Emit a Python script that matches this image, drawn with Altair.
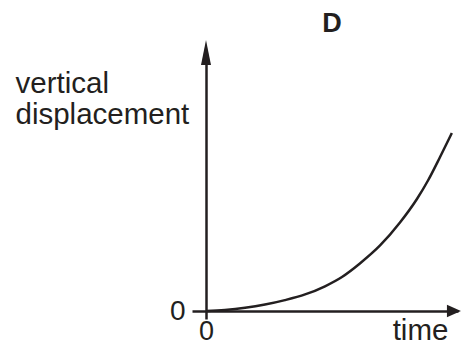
import altair as alt
import pandas as pd

INK = "#231f20"
FONT = "Liberation Sans"

# curve (time, vertical displacement) in arbitrary units
t_vals = [0, 0.77, 1.59, 2.40, 3.21, 4.03, 4.84, 5.53, 6.26, 7.08, 7.89, 8.58, 9.03, 9.52, 10.0]
d_vals = [0, 0.06, 0.18, 0.36, 0.61, 0.93, 1.39, 1.91, 2.67, 3.68, 4.97, 6.29, 7.33, 8.65, 10.0]
x_ticks = [0]
y_ticks = [0]
x_label = "time"
y_label = ["vertical", "displacement"]
title_text = "D"

x_max, y_max = 10.25, 14.38
x_tip, y_tip = 10.37, 15.22

curve = pd.DataFrame({"t": t_vals, "d": d_vals})
x_arrow = pd.DataFrame({"t": [x_tip], "d": [0]})
y_arrow = pd.DataFrame({"t": [0], "d": [y_tip]})

xs = alt.Scale(domain=[0, x_max], nice=False, zero=False)
ys = alt.Scale(domain=[0, y_max], nice=False, zero=False)

common = dict(grid=False, domainColor=INK, domainWidth=2.5, tickColor=INK,
              tickWidth=2.5, labelFont=FONT,
              labelColor=INK, labelFlush=False, labelOverlap=False, format="d",
              titleFont=FONT, titleFontSize=29.5, titleFontWeight="normal",
              titleColor=INK)

x_axis = alt.Axis(values=x_ticks, tickSize=8, labelFontSize=27,
                  labelBaseline="alphabetic", labelPadding=20, title=x_label,
                  titleX=214, titleY=28, titleAlign="center",
                  titleBaseline="alphabetic", **common)
y_axis = alt.Axis(values=y_ticks, tickSize=14, labelFontSize=28, labelPadding=7,
                  title=y_label, titleAngle=0, titleAlign="left", titleX=-191,
                  titleY=14, titleBaseline="top", titleLineHeight=31, **common)

X = alt.X("t:Q", scale=xs, axis=x_axis)
Y = alt.Y("d:Q", scale=ys, axis=y_axis)

line = alt.Chart(curve).mark_line(color=INK, strokeWidth=2.5,
                                  interpolate="monotone").encode(x=X, y=Y)

xa = alt.Chart(x_arrow).mark_point(shape="M0,0L-1,-0.45L-1,0.45Z", size=784,
                                   filled=True, color=INK, opacity=1,
                                   strokeWidth=0).encode(x=X, y=Y)
ya = alt.Chart(y_arrow).mark_point(shape="M0,0L-0.2,1L0.2,1Z", size=2500,
                                   filled=True, color=INK, opacity=1,
                                   strokeWidth=0).encode(x=X, y=Y)

chart = alt.layer(line, xa, ya).properties(
    width=252, height=256,
    autosize=alt.AutoSizeParams(type="none"),
    padding={"left": 198, "top": 47, "right": 3, "bottom": 34},
    title=alt.TitleParams(title_text, fontSize=27, fontWeight="bold", font=FONT,
                          anchor="middle", baseline="alphabetic", offset=-19,
                          color=INK),
).configure_view(strokeWidth=0)

chart.save("out.html", embed_options={"renderer": "svg", "actions": False})
